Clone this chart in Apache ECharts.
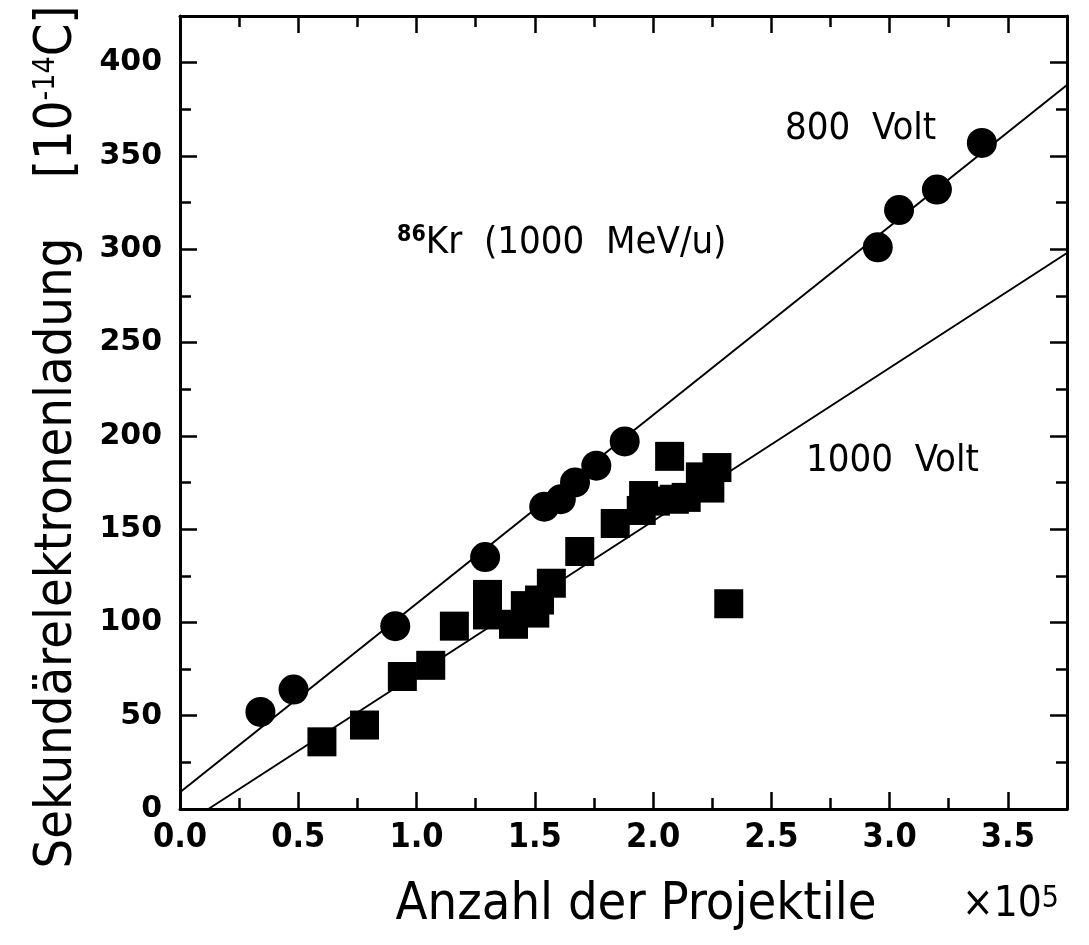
<!DOCTYPE html>
<html>
<head>
<meta charset="utf-8">
<script src="https://cdn.jsdelivr.net/npm/echarts@6/dist/echarts.min.js"></script>
<style>
html,body{margin:0;padding:0;background:#fff;}
#chart{width:1089px;height:945px;}
</style>
</head>
<body>
<div id="chart"></div>
<script>
// ---- data ----
const circles800 = [
  [0.34, 52], [0.48, 64], [0.91, 98], [1.29, 135], [1.54, 162], [1.61, 166],
  [1.67, 175], [1.76, 184], [1.88, 197], [2.95, 301], [3.04, 321], [3.20, 332], [3.39, 357]
];
const squares1000 = [
  [0.60, 36], [0.78, 45], [0.94, 71], [1.06, 77], [1.16, 98], [1.30, 115], [1.30, 104],
  [1.41, 99], [1.46, 109], [1.50, 105], [1.52, 112], [1.57, 121], [1.69, 138], [1.84, 153],
  [1.95, 160], [1.96, 168], [2.01, 165], [2.07, 189], [2.09, 166], [2.14, 167],
  [2.20, 178], [2.24, 172], [2.27, 183], [2.32, 110]
];
const fit800 = [[0, 9], [3.75, 388]];
const fit1000 = [[0.12, 0], [3.75, 298]];
const xTickLabels = ['0.0', '0.5', '1.0', '1.5', '2.0', '2.5', '3.0', '3.5'];
const yTickLabels = ['0', '50', '100', '150', '200', '250', '300', '350', '400'];

const condensed = '"DejaVu Sans Condensed", "Liberation Sans Narrow", "Roboto Condensed", "DejaVu Sans", sans-serif';
const bold = '"DejaVu Sans", sans-serif';

const chart = echarts.init(document.getElementById('chart'));

function xAxisDef(pos, showLabels) {
  return {
    type: 'value', position: pos, min: 0, max: 3.75, interval: 0.5,
    axisLine: { show: true, onZero: false, lineStyle: { color: '#000', width: 3 } },
    axisTick: { show: true, inside: true, length: 17, lineStyle: { color: '#000', width: 2.5 } },
    minorTick: { show: true, splitNumber: 2, length: 11, lineStyle: { color: '#000', width: 2.5 } },
    splitLine: { show: false },
    axisLabel: {
      show: showLabels, showMaxLabel: false, margin: 12,
      color: '#000', fontFamily: condensed, fontWeight: 'bold', fontSize: 34,
      formatter: v => { const i = Math.round(v / 0.5); return Math.abs(v - i * 0.5) < 1e-6 ? (xTickLabels[i] || '') : ''; }
    }
  };
}
function yAxisDef(pos, showLabels) {
  return {
    type: 'value', position: pos, min: 0, max: 425, interval: 50,
    axisLine: { show: true, onZero: false, lineStyle: { color: '#000', width: 3 } },
    axisTick: { show: true, inside: true, length: 17, lineStyle: { color: '#000', width: 2.5 } },
    minorTick: { show: true, splitNumber: 2, length: 11, lineStyle: { color: '#000', width: 2.5 } },
    splitLine: { show: false },
    axisLabel: {
      show: showLabels, showMaxLabel: false, margin: 18,
      color: '#000', fontFamily: bold, fontWeight: 'bold', fontSize: 30,
      formatter: v => { const i = Math.round(v / 50); return Math.abs(v - i * 50) < 1e-6 ? (yTickLabels[i] || '') : ''; }
    }
  };
}

const option = {
  backgroundColor: '#fff',
  animation: false,
  grid: { left: 180, right: 22, top: 16, bottom: 136, containLabel: false },
  xAxis: [xAxisDef('bottom', true), xAxisDef('top', false)],
  yAxis: [yAxisDef('left', true), yAxisDef('right', false)],
  series: [
    { type: 'line', data: fit800, xAxisIndex: 0, yAxisIndex: 0, symbol: 'none', clip: true,
      lineStyle: { color: '#000', width: 2 } },
    { type: 'line', data: fit1000, xAxisIndex: 0, yAxisIndex: 0, symbol: 'none', clip: true,
      lineStyle: { color: '#000', width: 2 } },
    { type: 'scatter', data: circles800, symbol: 'circle', symbolSize: 30,
      itemStyle: { color: '#000', opacity: 1 } },
    { type: 'scatter', data: squares1000, symbol: 'rect', symbolSize: 29,
      itemStyle: { color: '#000', opacity: 1 } }
  ],
  graphic: [
    { type: 'text', left: 785, top: 110, style: { text: '800  Volt', font: '38px ' + condensed, fill: '#000' } },
    { type: 'text', left: 806, top: 442, style: { text: '1000  Volt', font: '38px ' + condensed, fill: '#000' } },
    { type: 'text', left: 397, top: 224, style: {
        text: '{s|86}{t|Kr  (1000  MeV/u)}',
        rich: {
          s: { fontSize: 23, fontFamily: condensed, fontWeight: 'bold', verticalAlign: 'top', fill: '#000' },
          t: { fontSize: 38, fontFamily: condensed, fill: '#000' }
        } } },
    { type: 'text', x: 636, y: 905, style: { text: 'Anzahl der Projektile', font: '52px ' + condensed, fill: '#000', align: 'center', verticalAlign: 'middle' } },
    { type: 'text', left: 962, top: 884, style: {
        text: '{a|×10}{b|5}',
        rich: { a: { fontSize: 42, fontFamily: condensed, fill: '#000' },
                b: { fontSize: 30, fontFamily: condensed, verticalAlign: 'top', fill: '#000' } } } },
    { type: 'text', x: 57, y: 437, rotation: Math.PI / 2, style: {
        text: '{a|Sekundärelektronenladung}{a|    [10}{b|-14}{a|C]}',
        align: 'center', verticalAlign: 'middle',
        rich: { a: { fontSize: 52, fontFamily: condensed, fill: '#000' },
                b: { fontSize: 30, fontFamily: condensed, verticalAlign: 'top', fill: '#000' } } } }
  ]
};
chart.setOption(option);
</script>
</body>
</html>
